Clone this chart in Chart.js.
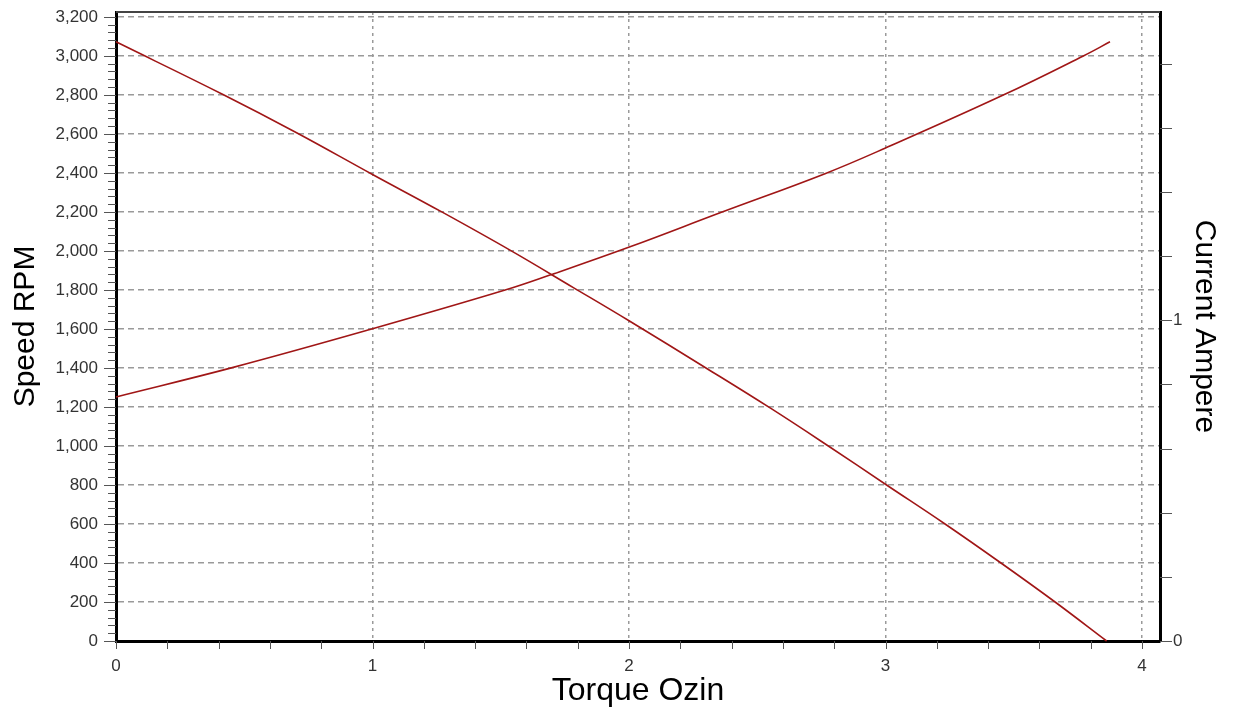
<!DOCTYPE html>
<html>
<head>
<meta charset="utf-8">
<title>Speed / Current vs Torque</title>
<script src="https://cdn.jsdelivr.net/npm/chart.js@4.4.1/dist/chart.umd.min.js"></script>
<style>
  html, body { margin: 0; padding: 0; background: #fff; }
  #wrap { width: 1237px; height: 713px; position: relative; }
</style>
</head>
<body>
<div id="wrap"><canvas id="chart"></canvas></div>
<script>
// speed curve (left axis)
var speedTorque = [0, 0.417, 0.704, 1.0, 1.27, 1.536, 1.783, 2.0, 2.30, 2.55, 2.777, 3.004, 3.232, 3.45, 3.661, 3.862];
var speedRpm    = [3072, 2802, 2606, 2392, 2200, 2004, 1812, 1642, 1400, 1195, 1000, 800, 600, 400, 200, 0];

// current curve (right axis)
var currentTorque = [0, 0.457, 0.99, 1.517, 1.689, 2.004, 2.355, 2.764, 3.0, 3.459, 3.771, 3.875];
var currentAmp    = [0.761, 0.853, 0.971, 1.094, 1.140, 1.229, 1.335, 1.457, 1.537, 1.702, 1.824, 1.868];

var speedTicks = [0, 200, 400, 600, 800, 1000, 1200, 1400, 1600, 1800, 2000, 2200, 2400, 2600, 2800, 3000, 3200];
var torqueMax = 4.07;
var speedMax = 3225;
var currentMax = 1.961;

var font = "'Liberation Sans', Arial, sans-serif";
var lineColor = '#a01616';

function toPoints(xs, ys) {
    return xs.map(function(x, i) { return {x: x, y: ys[i]}; });
}

function noPad(scale) {
    scale.paddingTop = 0;
    scale.paddingBottom = 0;
    scale.paddingLeft = 0;
    scale.paddingRight = 0;
}

// axis tick marks and top frame line
var tickMarks = {
    id: 'tickMarks',
    beforeDatasetsDraw: function(chart) {
        var ctx = chart.ctx;
        var a = chart.chartArea;
        var s = chart.scales;
        var i, p, len;
        ctx.save();
        ctx.strokeStyle = '#555';
        ctx.lineWidth = 1;
        ctx.beginPath();
        // left: every 40 rpm, longer on 200
        for (i = 0; i * 40 <= 3200; i++) {
            p = Math.round(s.y.getPixelForValue(i * 40)) + 0.5;
            len = (i % 5 === 0) ? 12 : 8;
            ctx.moveTo(a.left - len, p);
            ctx.lineTo(a.left, p);
        }
        // bottom: every 0.2
        for (i = 0; i <= 20; i++) {
            p = Math.round(s.x.getPixelForValue(i / 5)) + 0.5;
            ctx.moveTo(p, a.bottom);
            ctx.lineTo(p, a.bottom + 8);
        }
        // right: every 0.2 A
        for (i = 0; i <= 9; i++) {
            p = Math.round(s.y1.getPixelForValue(i / 5)) + 0.5;
            ctx.moveTo(a.right, p);
            ctx.lineTo(a.right + 12, p);
        }
        ctx.stroke();
        ctx.strokeStyle = '#444';
        ctx.lineWidth = 2;
        ctx.beginPath();
        ctx.moveTo(a.left, a.top);
        ctx.lineTo(a.right, a.top);
        ctx.stroke();
        ctx.restore();
    }
};

new Chart("chart", {
    type: 'line',
    data: {
        datasets: [{
            label: 'Speed RPM',
            data: toPoints(speedTorque, speedRpm),
            yAxisID: 'y',
            borderColor: lineColor,
            borderWidth: 1.6,
            pointRadius: 0,
            tension: 0.4,
            clip: 4
        }, {
            label: 'Current Ampere',
            data: toPoints(currentTorque, currentAmp),
            yAxisID: 'y1',
            borderColor: lineColor,
            borderWidth: 1.6,
            pointRadius: 0,
            tension: 0.4,
            clip: 4
        }]
    },
    options: {
        responsive: true,
        maintainAspectRatio: false,
        animation: false,
        layout: { padding: { top: 12, left: 0, right: 0, bottom: 0 } },
        plugins: { legend: { display: false }, tooltip: { enabled: false } },
        scales: {
            x: {
                type: 'linear',
                min: 0,
                max: torqueMax,
                afterFit: function(scale) { scale.height = 72; noPad(scale); },
                ticks: { stepSize: 1, includeBounds: false, padding: 15, color: '#333', font: { family: font, size: 17 } },
                grid: { color: '#9a9a9a', lineWidth: 1.5, drawTicks: false },
                border: { color: '#000', width: 3, dash: [3, 4] },
                title: { display: true, text: 'Torque Ozin', color: '#000', font: { family: font, size: 32 }, padding: { top: 0, bottom: 3 } }
            },
            y: {
                type: 'linear',
                position: 'left',
                min: 0,
                max: speedMax,
                afterFit: function(scale) { scale.width = 116; noPad(scale); },
                afterBuildTicks: function(scale) {
                    scale.ticks = speedTicks.map(function(v) { return {value: v}; });
                },
                ticks: {
                    padding: 18, color: '#333', font: { family: font, size: 17 },
                    callback: function(v) { return Number(v).toLocaleString('en-US'); }
                },
                grid: { color: '#9a9a9a', lineWidth: 1.5, drawTicks: false },
                border: { color: '#000', width: 3, dash: [6, 4] },
                title: { display: true, text: 'Speed RPM', color: '#000', font: { family: font, size: 30 }, padding: { top: 8, bottom: 0 } }
            },
            y1: {
                type: 'linear',
                position: 'right',
                min: 0,
                max: currentMax,
                afterFit: function(scale) { scale.width = 77; noPad(scale); },
                ticks: { stepSize: 1, includeBounds: false, padding: 13, color: '#333', font: { family: font, size: 17 } },
                grid: { display: false, drawTicks: false },
                border: { color: '#000', width: 3 },
                title: { display: true, text: 'Current Ampere', color: '#000', font: { family: font, size: 30 }, padding: { top: 15, bottom: 0 } }
            }
        }
    },
    plugins: [tickMarks]
});
</script>
</body>
</html>
